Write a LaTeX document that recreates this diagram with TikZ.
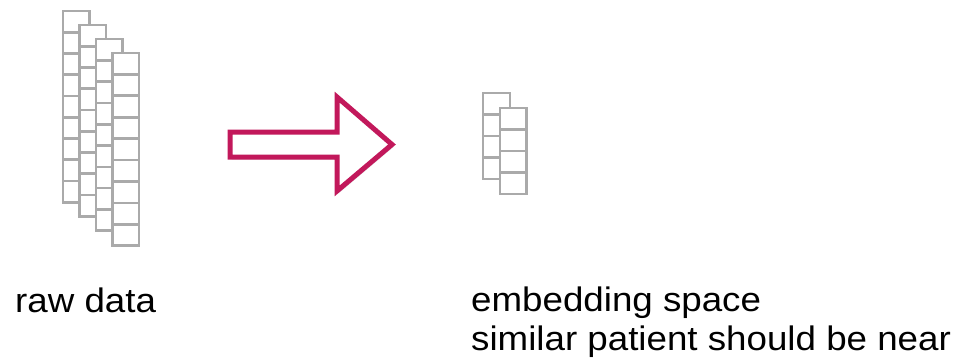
\documentclass[tikz,border=0pt]{standalone}
\usepackage{fontspec}
\setmainfont{Liberation Sans}[FakeStretch=1.08]
\usetikzlibrary{shadows}
\definecolor{cellgray}{HTML}{AAAAAA}
\definecolor{arrowmag}{HTML}{C2185B}
\tikzset{
  cellline/.style={draw=cellgray, line width=2.6pt, fill=white},
  lbl/.style={anchor=base west, inner sep=0pt, font=\fontsize{34}{39}\selectfont, text=black},
  blockarrow/.style={draw=arrowmag, line width=5pt, line join=miter, fill=white,
    drop shadow={opacity=0.25, shadow xshift=1.5pt, shadow yshift=-2.5pt}}
}
% column: #1 x, #2 y (top), #3 width, #4 cell height, #5 count
\newcommand{\cellcolumn}[5]{%
  \path[cellline] (#1,#2) rectangle ({#1+#3},{#2+#4*#5});
  \foreach \k in {1,...,\numexpr#5-1\relax}{
    \draw[draw=cellgray, line width=2.6pt] (#1,{#2+#4*\k}) -- ({#1+#3},{#2+#4*\k});
  }
}
\begin{document}
\begin{tikzpicture}[x=1pt,y=-1pt]
\useasboundingbox (0,0) rectangle (967,361);
% raw data columns
\cellcolumn{63}{11}{26.5}{21.25}{9}
\cellcolumn{79.5}{25}{26.5}{21.25}{9}
\cellcolumn{96}{39}{26.5}{21.3}{9}
\cellcolumn{112.5}{53}{26.5}{21.4}{9}
% embedding columns
\cellcolumn{483}{93}{27}{21.5}{4}
\cellcolumn{500}{108}{26.5}{21.5}{4}
% block arrow
\path[blockarrow] (230,132) -- (337,132) -- (337,97) -- (392,144.5) -- (337,191) -- (337,157) -- (230,157) -- cycle;
% labels
\node[lbl] (raw) at (15,312) {raw data};
\node[lbl] (emb) at (471,311) {embedding space};
\node[lbl] (sim) at (471,350) {similar patient should be near};
\end{tikzpicture}
\end{document}
